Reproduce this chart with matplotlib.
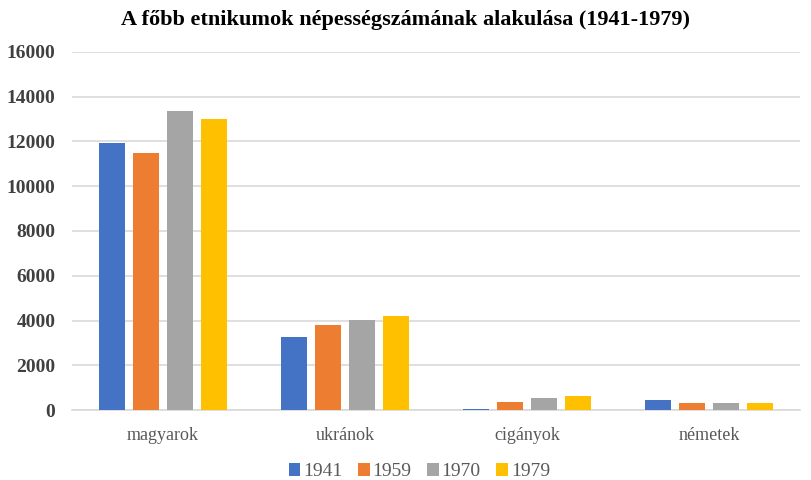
import matplotlib.pyplot as plt
import numpy as np

# adatok
categories = ["magyarok", "ukránok", "cigányok", "németek"]
years = ["1941", "1959", "1970", "1979"]
v1941 = [11940, 3250, 60, 430]
v1959 = [11500, 3800, 370, 300]
v1970 = [13380, 4040, 530, 315]
v1979 = [13020, 4190, 620, 325]
colors = ["#4472C4", "#ED7D31", "#A5A5A5", "#FFC000"]

series = [v1941, v1959, v1970, v1979]

fig = plt.figure(figsize=(8.11, 4.8), dpi=100)
ax = fig.add_axes([0.0888, 0.1458, 0.8976, 0.7459])

x = np.arange(len(categories))
width = 0.144
step = 0.186
for i, (vals, yr) in enumerate(zip(series, years)):
    ax.bar(x + (i - 1.5) * step, vals, width, color=colors[i], label=yr, zorder=3)

ax.set_xlim(-0.5, 3.5)
ax.set_ylim(0, 16000)
ax.set_yticks(range(0, 16001, 2000))
ax.yaxis.grid(True, color="#D9D9D9", linewidth=1.2, zorder=0)
for s in ["top", "right", "left"]:
    ax.spines[s].set_visible(False)
ax.spines["bottom"].set_color("#D9D9D9")
ax.spines["bottom"].set_linewidth(1.2)
ax.tick_params(axis="both", length=0)
ax.tick_params(axis="y", pad=12)
ax.tick_params(axis="x", pad=12)

ax.set_xticks(x)
ax.set_xticklabels(categories, family="Liberation Serif", fontsize=13, color="#595959")
for lbl in ax.get_yticklabels():
    lbl.set_family("Liberation Serif")
    lbl.set_fontweight("bold")
    lbl.set_fontsize(14)
    lbl.set_color("#404040")

fig.suptitle("A főbb etnikumok népességszámának alakulása (1941-1979)",
             family="Liberation Serif", fontweight="bold", fontsize=16, x=0.5, y=0.98)

leg = ax.legend(loc="upper center", bbox_to_anchor=(0.477, -0.1), ncol=4, frameon=False,
                prop={"family": "Liberation Serif", "size": 14}, handlelength=0.6,
                handleheight=0.6, handletextpad=0.15, columnspacing=0.8)
for t in leg.get_texts():
    t.set_color("#595959")

fig.savefig("out.png", dpi=100)
